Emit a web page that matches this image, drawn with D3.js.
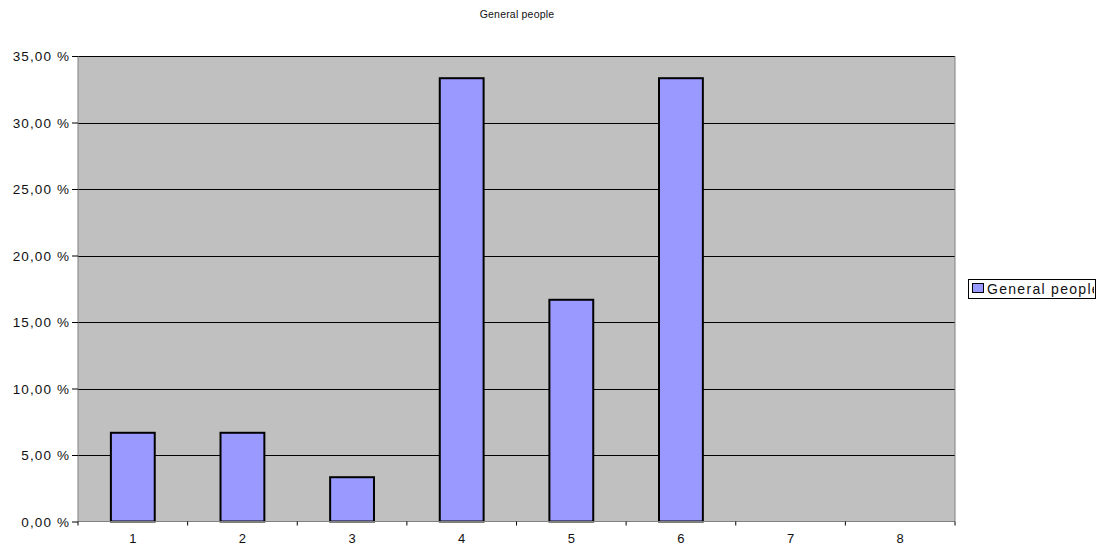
<!DOCTYPE html>
<html><head><meta charset="utf-8">
<script src="https://cdn.jsdelivr.net/npm/d3@7"></script>
<style>body{margin:0;background:#fff;overflow:hidden}svg{display:block}text{font-family:"Liberation Sans",Arial,sans-serif}</style>
</head><body>
<svg id="c" width="1104" height="550"></svg>
<script>
const categories = ["1","2","3","4","5","6","7","8"];
const values = [6.67, 6.67, 3.33, 33.33, 16.67, 33.33, 0, 0];
const yTicks = [0,5,10,15,20,25,30,35];
const seriesName = "General people";
const title = "General people";

const svg = d3.select("#c");
const L=78, R=955, T=56, B=521.5;
const x = d3.scaleBand().domain(categories).range([L,R]).paddingInner(0.6).paddingOuter(0.3);
const xb = d3.scaleBand().domain(categories).range([L,R]);
const y = d3.scaleLinear().domain([0,35]).range([B,T]);

svg.append("rect").attr("x",L).attr("y",T).attr("width",R-L).attr("height",B-T).attr("fill","#C0C0C0");
svg.append("g").selectAll("line").data(yTicks.filter(d=>d>0)).join("line")
  .attr("x1",L).attr("x2",R).attr("y1",d=>Math.round(y(d))+0.5).attr("y2",d=>Math.round(y(d))+0.5).attr("stroke","#000").attr("stroke-width",1);
svg.append("line").attr("x1",R).attr("x2",R).attr("y1",T).attr("y2",B).attr("stroke","#808080");

svg.append("g").selectAll("rect").data(values).join("rect")
  .attr("x",(d,i)=>x(categories[i])).attr("width",x.bandwidth())
  .attr("y",d=>y(d)).attr("height",d=>B-y(d))
  .attr("fill","#9999FF").attr("stroke","#000").attr("stroke-width",2)
  .attr("display",d=>d>0?null:"none");

// y axis
const fmt = d=>d.toFixed(2).replace(".",",")+" %";
const ya = svg.append("g").attr("transform",`translate(${L},0)`).call(d3.axisLeft(y).tickValues(yTicks).tickFormat(fmt).tickSize(6).tickPadding(2));
ya.select(".domain").attr("stroke","#808080").attr("d",`M0,${T}V${B}`);
ya.selectAll(".tick line").attr("stroke","#000");
ya.selectAll("text").attr("font-size",13.5).attr("letter-spacing","1.1px").attr("fill","#111").attr("dy","0.35em");

// x axis
const xa = svg.append("g").attr("transform",`translate(0,${B})`);
xa.append("line").attr("x1",L).attr("x2",R).attr("stroke","#808080");
xa.selectAll("line.t").data(categories.map(c=>xb(c)).concat([R])).join("line").attr("class","t")
  .attr("x1",d=>d).attr("x2",d=>d).attr("y1",0).attr("y2",4).attr("stroke","#000");
xa.selectAll("text").data(categories).join("text").attr("x",d=>xb(d)+xb.bandwidth()/2).attr("y",21.5)
  .attr("text-anchor","middle").attr("font-size",13).attr("fill","#111").text(d=>d);

svg.append("text").attr("x",517).attr("y",18).attr("text-anchor","middle").attr("font-size",10.5).attr("letter-spacing","0.2px").attr("fill","#111").text(title);

// legend
svg.append("clipPath").attr("id","lc").append("rect").attr("x",968).attr("y",278).attr("width",126).attr("height",23);
svg.append("rect").attr("x",968.5).attr("y",279.5).attr("width",127).attr("height",19).attr("fill","#fff");
svg.append("rect").attr("x",972.5).attr("y",283.5).attr("width",11).attr("height",9).attr("fill","#9999FF").attr("stroke","#000");
svg.append("g").attr("clip-path","url(#lc)").append("text").attr("x",987).attr("y",294).attr("font-size",14).attr("letter-spacing","1.3px").attr("fill","#111").text(seriesName);
svg.append("rect").attr("x",968.5).attr("y",279.5).attr("width",127).attr("height",19).attr("fill","none").attr("stroke","#000");
</script>
</body></html>
